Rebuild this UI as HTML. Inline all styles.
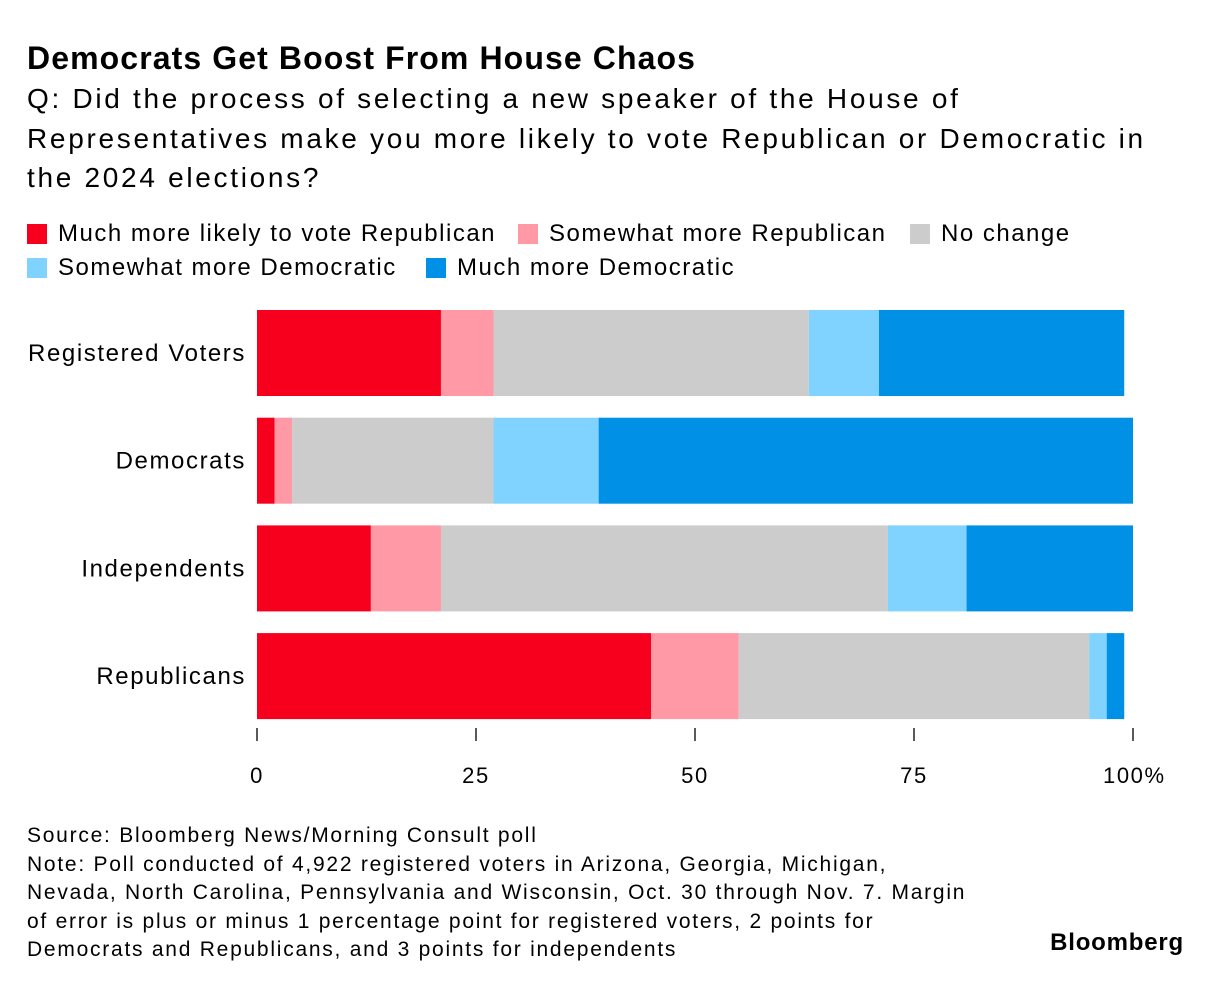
<!DOCTYPE html>
<html><head><meta charset="utf-8"><style>
body{margin:0;width:1221px;height:988px;background:#fff;font-family:"Liberation Sans",sans-serif;color:#000;position:relative;overflow:hidden}
.t{position:absolute;left:27px;top:40px;font-size:32px;font-weight:bold;letter-spacing:1.1px;white-space:nowrap}
.s{position:absolute;left:27px;top:79px;font-size:28px;line-height:39.5px;letter-spacing:2.7px;white-space:nowrap}
.lg{position:absolute;font-size:24px;letter-spacing:1.5px;display:flex;align-items:center;white-space:nowrap}
.lg i{display:inline-block;width:20px;height:20px;margin-right:11px}
.f{position:absolute;left:27px;top:822px;font-size:21px;line-height:28.5px;letter-spacing:1.75px;white-space:nowrap}
.b{position:absolute;right:37px;top:929px;font-size:24px;font-weight:bold;letter-spacing:0.8px}
text{letter-spacing:1.6px}
</style></head><body>
<div class="t">Democrats Get Boost From House Chaos</div>
<div class="s">Q: Did the process of selecting a new speaker of the House of<br>Representatives make you more likely to vote Republican or Democratic in<br>the 2024 elections?</div>
<div class="lg" style="left:27px;top:220px"><i style="background:#f7001e"></i>Much more likely to vote Republican</div>
<div class="lg" style="left:518px;top:220px"><i style="background:#ff99a5"></i>Somewhat more Republican</div>
<div class="lg" style="left:910px;top:220px"><i style="background:#cccccc"></i>No change</div>
<div class="lg" style="left:27px;top:254px"><i style="background:#80d2ff"></i>Somewhat more Democratic</div>
<div class="lg" style="left:426px;top:254px"><i style="background:#0091e6"></i>Much more Democratic</div>
<svg id="c" width="1221" height="988" style="position:absolute;left:0;top:0"></svg>
<div class="f">Source: Bloomberg News/Morning Consult poll<br>Note: Poll conducted of 4,922 registered voters in Arizona, Georgia, Michigan,<br>Nevada, North Carolina, Pennsylvania and Wisconsin, Oct. 30 through Nov. 7. Margin<br>of error is plus or minus 1 percentage point for registered voters, 2 points for<br>Democrats and Republicans, and 3 points for independents</div>
<div class="b">Bloomberg</div>
<script>
const categories=["Registered Voters","Democrats","Independents","Republicans"];
const muchRep=[21,2,13,45];
const someRep=[6,2,8,10];
const noChange=[36,23,51,40];
const someDem=[8,12,9,2];
const muchDem=[28,61,19,2];
const ticks=[0,25,50,75,100];
const tickLabels=["0","25","50","75","100%"];
const series=[muchRep,someRep,noChange,someDem,muchDem];
const seriesNames=["much-republican","somewhat-republican","no-change","somewhat-democratic","much-democratic"];
const colors=["#f7001e","#ff99a5","#cccccc","#80d2ff","#0091e6"];
const svg=document.getElementById('c');const NS="http://www.w3.org/2000/svg";
const x=v=>257+v*8.76;
const y=i=>310+i*107.7;
const bh=86;
function mk(t,a){const e=document.createElementNS(NS,t);for(const k in a)e.setAttribute(k,a[k]);svg.appendChild(e);return e;}
categories.forEach((c,i)=>{
  let acc=0;
  series.forEach((s,j)=>{
    const r=mk('rect',{x:x(acc),y:y(i),width:x(acc+s[i])-x(acc),height:bh,fill:colors[j]});
    
    
    acc+=s[i];
  });
  const t=mk('text',{x:246,y:y(i)+bh/2+8,'text-anchor':'end','font-size':24,'font-family':'Liberation Sans, sans-serif'});
  t.textContent=c;
  
  
});
ticks.forEach((v,i)=>{
  const l=mk('line',{x1:x(v),x2:x(v),y1:728,y2:741,stroke:'#000','stroke-width':1.3});
  
  
  const t=mk('text',{x:x(v),y:783,'text-anchor':(v==100?'start':'middle'),'font-size':22,'font-family':'Liberation Sans, sans-serif'});
  if(v==100)t.setAttribute('x',x(v)-30);
  t.textContent=tickLabels[i];
  
  
});
</script>
</body></html>
